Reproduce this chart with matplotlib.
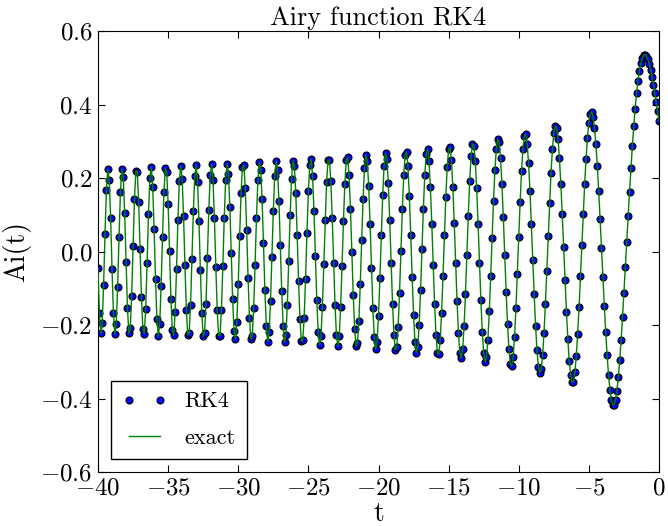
import matplotlib
matplotlib.use("Agg")
import matplotlib.pyplot as plt
import matplotlib.ticker as mticker
import numpy as np

# ---- data ----
t_start, t_stop, t_step = -40.0, 0.0, 0.1
ai_values = [
    -0.046, -0.167, -0.223, -0.194, -0.090, 0.048, 0.168, 0.224, 0.195, 0.091,
    -0.047, -0.167, -0.225, -0.198, -0.097, 0.040, 0.162, 0.224, 0.203, 0.106,
    -0.029, -0.154, -0.223, -0.209, -0.120, 0.014, 0.142, 0.219, 0.217, 0.136,
    0.007, -0.125, -0.212, -0.224, -0.156, -0.032, 0.103, 0.201, 0.229, 0.176,
    0.062, -0.074, -0.184, -0.231, -0.197, -0.095, 0.040, 0.161, 0.226, 0.215,
    0.130, 0.001, -0.128, -0.214, -0.228, -0.165, -0.047, 0.087, 0.192, 0.233,
    0.197, 0.096, -0.037, -0.158, -0.227, -0.222, -0.145, -0.020, 0.110, 0.206,
    0.235, 0.188, 0.082, -0.051, -0.168, -0.231, -0.221, -0.142, -0.018, 0.112,
    0.207, 0.237, 0.194, 0.091, -0.041, -0.159, -0.229, -0.229, -0.159, -0.040,
    0.090, 0.194, 0.239, 0.212, 0.122, -0.004, -0.130, -0.217, -0.239, -0.192,
    -0.088, 0.042, 0.159, 0.231, 0.235, 0.172, 0.059, -0.071, -0.180, -0.238,
    -0.229, -0.154, -0.036, 0.092, 0.194, 0.243, 0.223, 0.142, 0.022, -0.105,
    -0.203, -0.245, -0.220, -0.136, -0.015, 0.110, 0.206, 0.246, 0.221, 0.137,
    0.017, -0.108, -0.204, -0.247, -0.226, -0.145, -0.027, 0.098, 0.198, 0.247,
    0.233, 0.160, 0.046, -0.079, -0.185, -0.244, -0.242, -0.180, -0.074, 0.051,
    0.164, 0.236, 0.251, 0.205, 0.109, -0.013, -0.132, -0.219, -0.254, -0.229,
    -0.150, -0.035, 0.087, 0.190, 0.248, 0.249, 0.193, 0.092, -0.030, -0.145,
    -0.227, -0.258, -0.231, -0.152, -0.040, 0.082, 0.185, 0.248, 0.256, 0.209,
    0.116, -0.002, -0.119, -0.211, -0.258, -0.250, -0.190, -0.089, 0.030, 0.143,
    0.226, 0.263, 0.246, 0.178, 0.074, -0.045, -0.155, -0.233, -0.266, -0.245,
    -0.176, -0.073, 0.045, 0.154, 0.234, 0.268, 0.251, 0.186, 0.085, -0.031,
    -0.142, -0.226, -0.268, -0.260, -0.205, -0.112, 0.001, 0.115, 0.207, 0.263,
    0.271, 0.232, 0.151, 0.045, -0.070, -0.173, -0.245, -0.276, -0.260, -0.199,
    -0.105, 0.006, 0.117, 0.208, 0.265, 0.279, 0.247, 0.175, 0.075, -0.037,
    -0.143, -0.227, -0.275, -0.280, -0.242, -0.166, -0.066, 0.045, 0.149, 0.231,
    0.278, 0.284, 0.248, 0.176, 0.078, -0.031, -0.135, -0.221, -0.275, -0.291,
    -0.266, -0.204, -0.115, -0.009, 0.097, 0.191, 0.259, 0.293, 0.288, 0.246,
    0.172, 0.075, -0.031, -0.133, -0.218, -0.276, -0.300, -0.287, -0.240, -0.163,
    -0.067, 0.038, 0.137, 0.221, 0.279, 0.305, 0.297, 0.254, 0.184, 0.093,
    -0.009, -0.109, -0.198, -0.265, -0.305, -0.312, -0.287, -0.232, -0.154, -0.060,
    0.040, 0.136, 0.219, 0.280, 0.315, 0.319, 0.293, 0.240, 0.165, 0.075,
    -0.022, -0.117, -0.202, -0.269, -0.313, -0.330, -0.320, -0.282, -0.222, -0.143,
    -0.053, 0.042, 0.133, 0.214, 0.278, 0.322, 0.341, 0.336, 0.306, 0.254,
    0.184, 0.102, 0.012, -0.078, -0.164, -0.238, -0.297, -0.337, -0.356, -0.354,
    -0.329, -0.285, -0.224, -0.151, -0.068, 0.018, 0.103, 0.183, 0.253, 0.310,
    0.351, 0.375, 0.380, 0.367, 0.337, 0.292, 0.234, 0.165, 0.089, 0.010,
    -0.070, -0.147, -0.219, -0.282, -0.335, -0.376, -0.403, -0.417, -0.417, -0.404,
    -0.379, -0.342, -0.295, -0.240, -0.179, -0.112, -0.043, 0.027, 0.096, 0.163,
    0.227, 0.287, 0.341, 0.389, 0.430, 0.464, 0.492, 0.512, 0.526, 0.534,
    0.536, 0.532, 0.524, 0.511, 0.495, 0.476, 0.454, 0.431, 0.406, 0.381,
    0.355,
]
x_ticks = [-40, -35, -30, -25, -20, -15, -10, -5, 0]
y_ticks = [-0.6, -0.4, -0.2, 0.0, 0.2, 0.4, 0.6]
title_text = "Airy function RK4"
x_label = "t"
y_label = "Ai(t)"
series_labels = ["RK4", "exact"]

t_values = np.linspace(t_start, t_stop, len(ai_values))

plt.rcParams.update({
    "font.family": "serif",
    "font.serif": ["cmr10"],
    "mathtext.fontset": "cm",
    "axes.formatter.use_mathtext": True,
    "xtick.direction": "in",
    "ytick.direction": "in",
    "xtick.top": True,
    "ytick.right": True,
    "xtick.major.size": 5,
    "ytick.major.size": 5,
    "axes.unicode_minus": True,
})

fig = plt.figure(figsize=(6.68, 5.26), dpi=100)
ax = fig.add_axes([98/668, 1-472/526, 561/668, 441/526])
ax.plot(t_values, ai_values, 'o', color='blue', markeredgecolor='black',
        markeredgewidth=0.8, markersize=5, label=series_labels[0], zorder=2)
ax.plot(t_values, ai_values, '-', color=(0, 0.5, 0), linewidth=1,
        label=series_labels[1], zorder=3)
ax.set_xlim(t_start, t_stop)
ax.set_ylim(y_ticks[0], y_ticks[-1])
ax.set_xticks(x_ticks)
ax.set_yticks(y_ticks)
ax.yaxis.set_major_formatter(mticker.FuncFormatter(lambda v, p: r"$%.1f$" % v))
ax.xaxis.set_major_formatter(mticker.FuncFormatter(lambda v, p: r"$%d$" % round(v)))
ax.tick_params(labelsize=18, pad=4)
ax.set_title(title_text, fontsize=19, pad=4)
ax.set_xlabel(x_label, fontsize=20, labelpad=1)
ax.set_ylabel(y_label, fontsize=20, labelpad=6)
ax.legend(loc='lower left', numpoints=2, fancybox=False, edgecolor='black',
          framealpha=1, fontsize=16, borderaxespad=0.6, labelspacing=0.75,
          borderpad=0.5)
fig.savefig("out.png", dpi=100)
